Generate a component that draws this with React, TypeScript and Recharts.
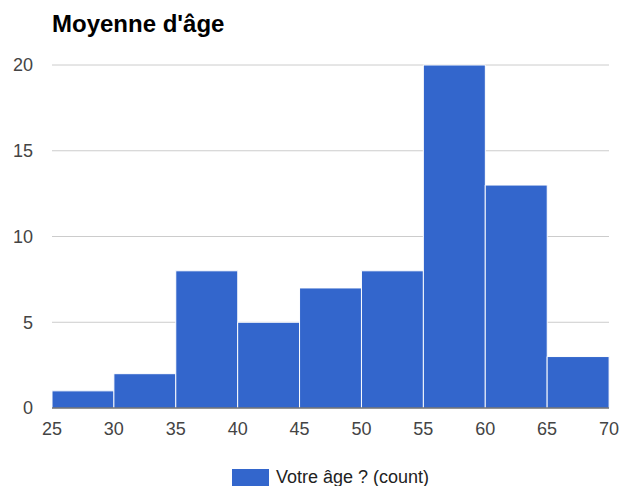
import React from "react";
import { BarChart, Bar, XAxis, YAxis, CartesianGrid, Legend } from "recharts";

// Histogram bins (lower edge) and counts per 5-year bin
const binStarts = [25, 30, 35, 40, 45, 50, 55, 60, 65];
const binWidth = 5;
const counts = [1, 2, 8, 5, 7, 8, 20, 13, 3];
const xTicks = [25, 30, 35, 40, 45, 50, 55, 60, 65, 70];
const yTicks = [0, 5, 10, 15, 20];
const seriesName = "Votre âge ? (count)";
const title = "Moyenne d'âge";

const data = binStarts.map((s, i) => ({ mid: s + binWidth / 2, count: counts[i] }));

const FONT = "'Liberation Sans', Arial, sans-serif";
const BLUE = "#3366cc";
const TICK_COLOR = "#444444";

const LegendContent = () => (
  <div
    style={{
      display: "flex",
      justifyContent: "center",
      alignItems: "center",
      height: 20,
      fontFamily: FONT,
      fontSize: 18,
      color: "#222222",
    }}
  >
    <span style={{ display: "inline-block", width: 37, height: 17, background: BLUE, marginRight: 7 }} />
    <span>{seriesName}</span>
  </div>
);

export default function App() {
  return (
    <div style={{ position: "absolute", left: 0, top: 0, width: 620, height: 486, background: "#fff" }}>
      <div
        style={{
          position: "absolute",
          left: 52,
          top: 12,
          fontFamily: FONT,
          fontWeight: "bold",
          fontSize: 24,
          lineHeight: "24px",
          color: "#000",
          whiteSpace: "nowrap",
        }}
      >
        {title}
      </div>
      <BarChart
        width={620}
        height={486}
        data={data}
        margin={{ top: 65, right: 11, bottom: 28, left: 0 }}
        barCategoryGap={0}
      >
        <CartesianGrid horizontal vertical={false} stroke="#cccccc" />
        <XAxis
          dataKey="mid"
          type="number"
          domain={[25, 70]}
          ticks={xTicks}
          interval={0}
          height={30}
          tickLine={false}
          tickSize={0}
          tickMargin={14}
          axisLine={{ stroke: "#333333", strokeWidth: 1 }}
          tick={{ fill: TICK_COLOR, fontSize: 18, fontFamily: FONT }}
        />
        <YAxis
          width={52}
          domain={[0, 20]}
          ticks={yTicks}
          interval={0}
          axisLine={false}
          tickLine={false}
          tickSize={0}
          tickMargin={19}
          tick={{ fill: TICK_COLOR, fontSize: 18, fontFamily: FONT }}
        />
        <Legend
          verticalAlign="bottom"
          content={<LegendContent />}
          wrapperStyle={{ position: "absolute", top: 467, left: 52, width: 557, height: 20 }}
        />
        <Bar
          dataKey="count"
          name={seriesName}
          fill={BLUE}
          stroke="#ffffff"
          strokeWidth={1}
          isAnimationActive={false}
        />
      </BarChart>
    </div>
  );
}
